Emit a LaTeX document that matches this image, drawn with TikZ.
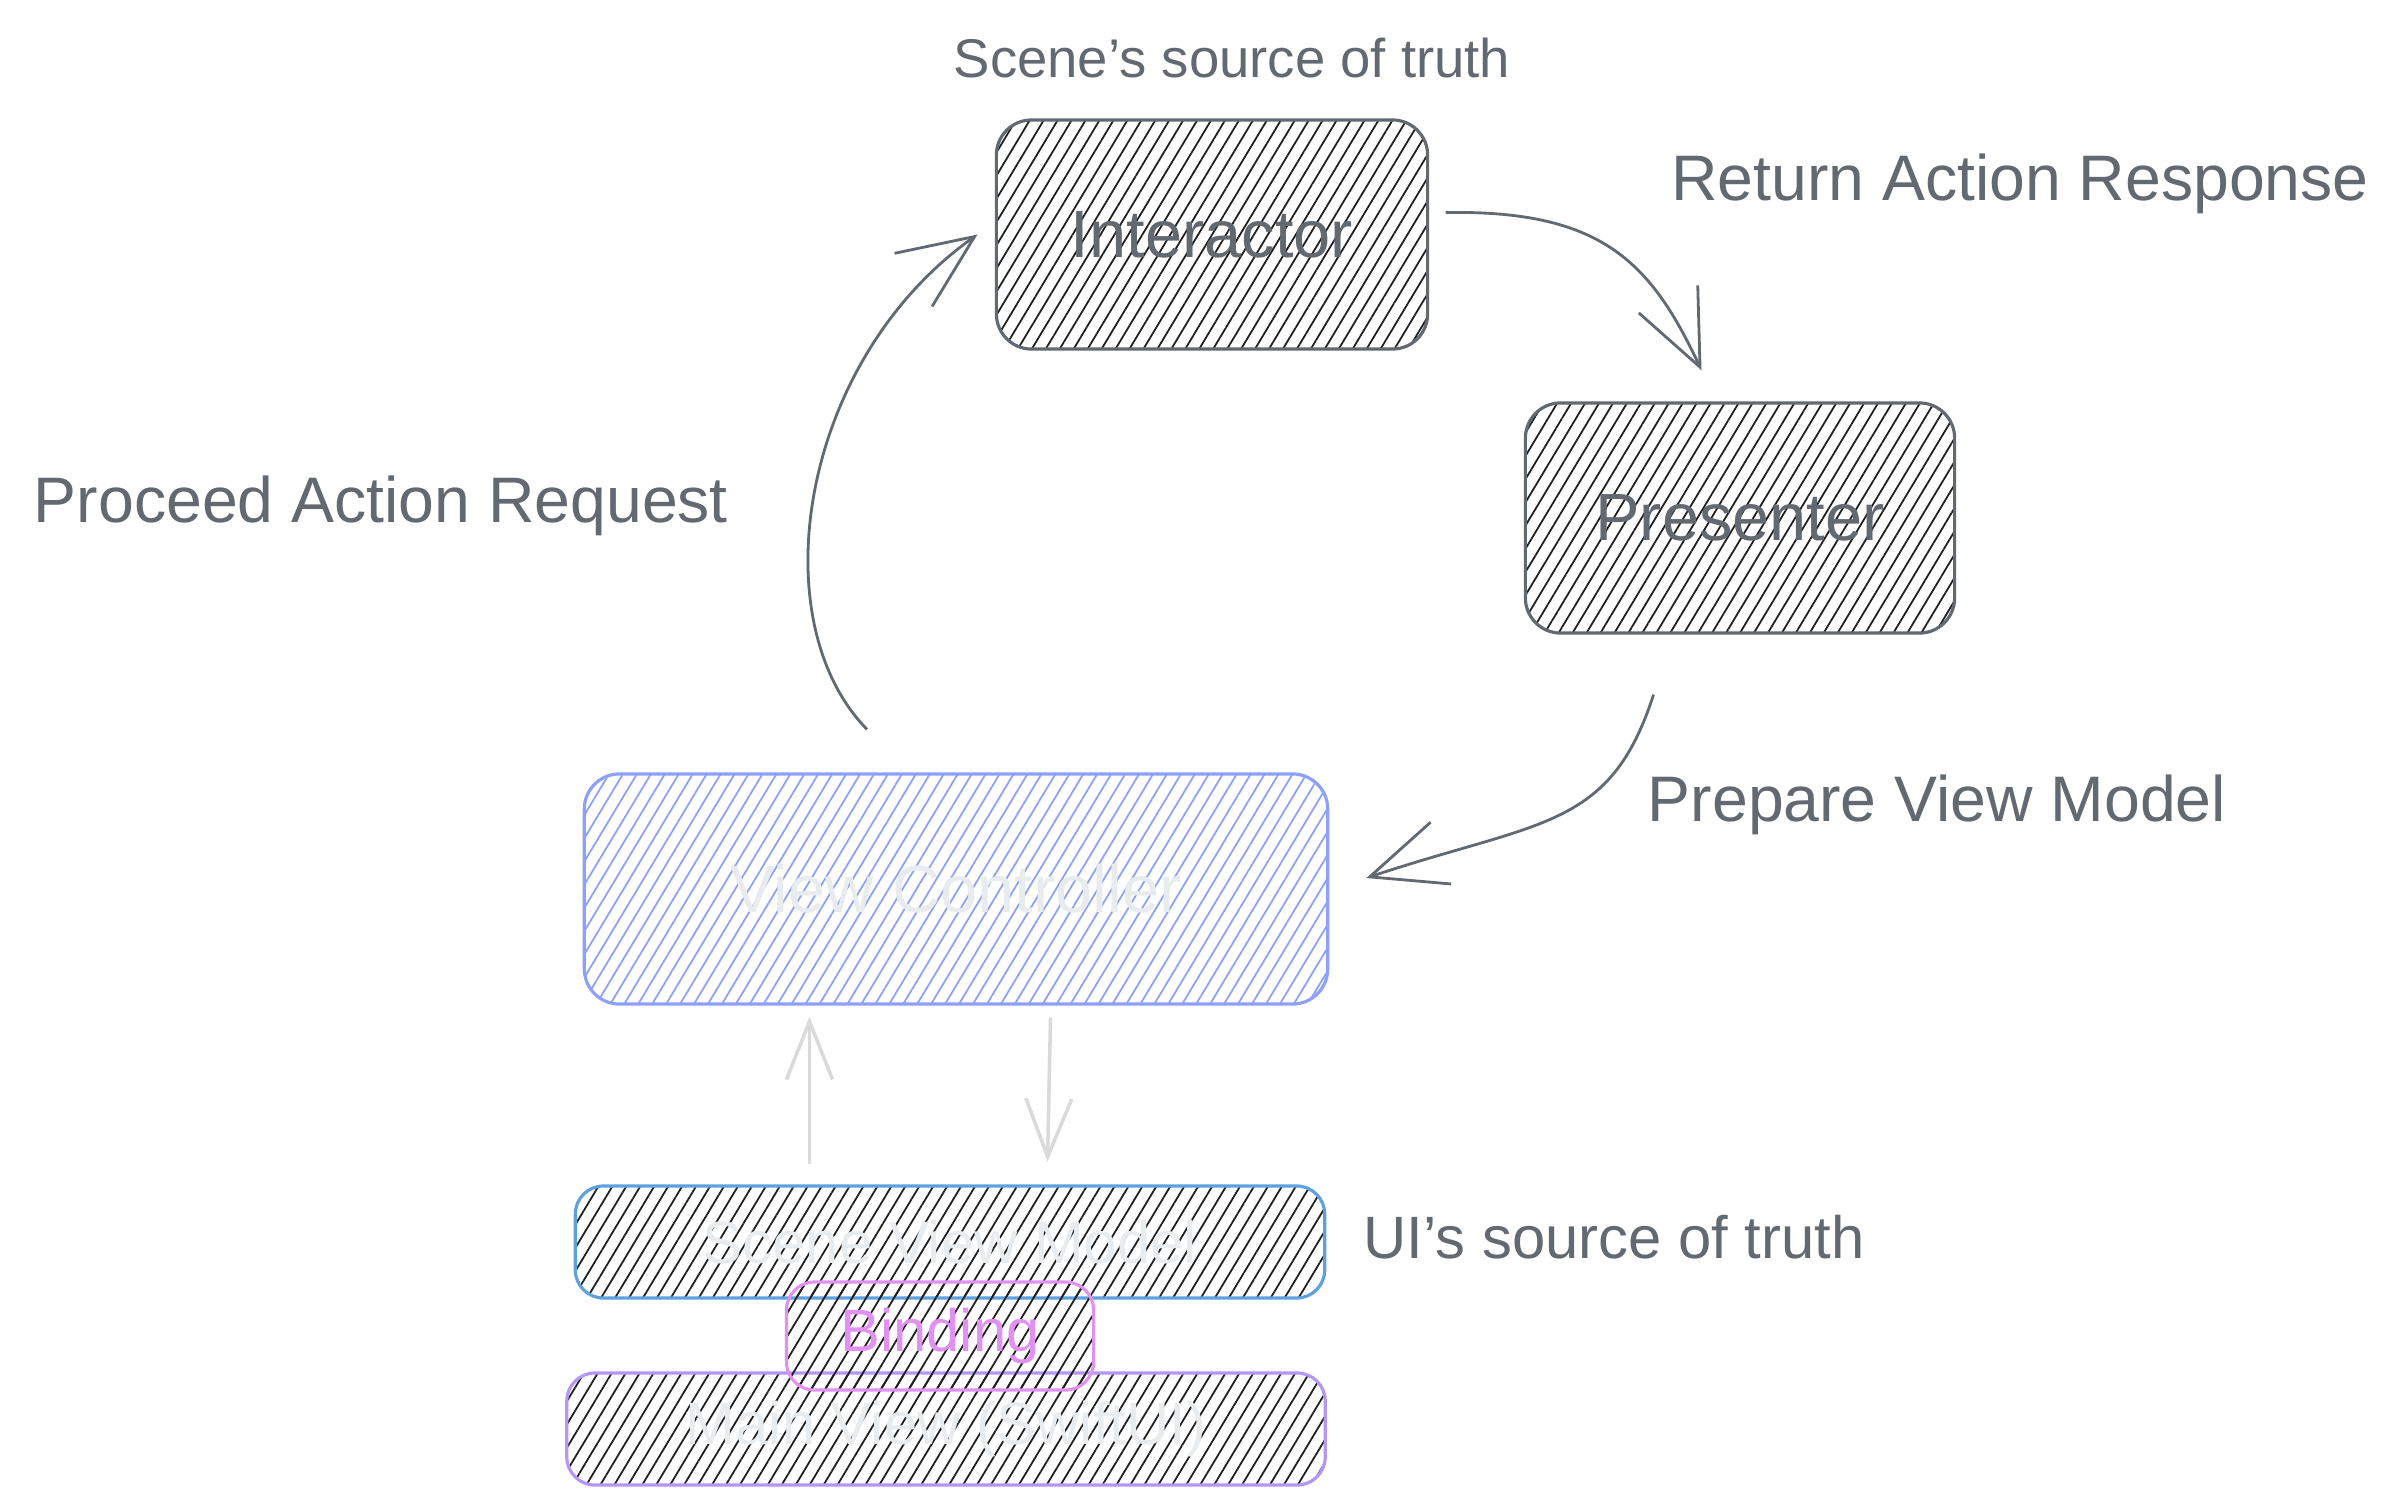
\documentclass[tikz,border=0pt]{standalone}
\usepackage{fontspec}
\setmainfont{Liberation Sans}
\usetikzlibrary{patterns.meta,arrows.meta}
\definecolor{ink}{RGB}{99,105,113}
\definecolor{faint}{RGB}{233,236,239}
\definecolor{lightarr}{RGB}{218,218,218}
\definecolor{vcblue}{RGB}{140,160,252}
\definecolor{svmblue}{RGB}{95,160,225}
\definecolor{mvviolet}{RGB}{180,150,250}
\definecolor{bindpink}{RGB}{225,145,242}
\definecolor{hatchink}{RGB}{30,30,30}
\begin{document}
\begin{tikzpicture}[x=0.01cm,y=-0.01cm,
  box/.style={rounded corners=10pt, line width=0.9pt, inner sep=0pt,
    pattern={Lines[angle=59,distance=3.4pt,line width=0.5pt]}, pattern color=hatchink},
  boxlabel/.style={font=\fontsize{19}{22}\selectfont},
  boxlabelsm/.style={font=\fontsize{17}{20}\selectfont},
  note/.style={text=ink, font=\fontsize{18.3}{22}\selectfont, inner sep=0pt},
  small/.style={text=ink, font=\fontsize{15.5}{18}\selectfont, inner sep=0pt},
  arr/.style={draw=ink, line width=0.8pt,
    -{Straight Barb[length=7.5mm,width=6.5mm,line width=0.8pt]}},
  larr/.style={draw=lightarr, line width=1pt,
    -{Straight Barb[length=5.8mm,width=4.6mm,line width=1pt]}}
]
\fill[white] (0,0) rectangle (2391,1509);
\useasboundingbox (0,0) rectangle (2391,1509);

% boxes
\node[box, draw=ink, text=ink, boxlabel, minimum width=4.31cm, minimum height=2.29cm]
  (int) at (1212,234.5) {Interactor};
\node[box, draw=ink, text=ink, boxlabel, minimum width=4.29cm, minimum height=2.30cm]
  (pres) at (1740,518) {Presenter};
\node[box, draw=vcblue, pattern color=vcblue, text=faint, boxlabel,
  minimum width=7.43cm, minimum height=2.30cm]
  (vc) at (956,889) {View Controller};
\node[box, draw=svmblue, text=faint, boxlabelsm, rounded corners=8pt,
  minimum width=7.49cm, minimum height=1.12cm]
  (svm) at (950,1242) {Scene View Model};
\node[box, draw=mvviolet, text=faint, boxlabelsm, rounded corners=8pt,
  minimum width=7.58cm, minimum height=1.12cm]
  (mv) at (946,1429) {Main View (SwiftUI)};
\node[box, draw=bindpink, text=bindpink, boxlabelsm, rounded corners=8pt,
  minimum width=3.07cm, minimum height=1.08cm]
  (bind) at (940,1336) {Binding};

% labels
\node[small] (sst) at (1232,58) {Scene's source of truth};
\node[note] (rar) at (2020,184) {Return Action Response};
\node[note] (par) at (381,506) {Proceed Action Request};
\node[note] (pvm) at (1937,805) {Prepare View Model};
\node[small, font=\fontsize{17}{20}\selectfont] (ust) at (1614,1237) {UI's source of truth};

% connectors
\draw[arr] ([shift={(-89,-43)}]vc.north) .. controls (760,620) and (800,360) .. ([shift={(-18,0)}]int.west);
\draw[arr] ([shift={(17,-22)}]int.east) .. controls (1600,210) and (1650,260) .. ([shift={(-38.5,-31)}]pres.north);
\draw[arr] ([shift={(-86.5,60)}]pres.south) .. controls (1610,830) and (1540,820) .. ([shift={(37,-11)}]vc.east);
\draw[larr] ([shift={(-140.5,-20)}]svm.north) -- ([shift={(-146.5,11)}]vc.south);
\draw[larr] ([shift={(94.5,12)}]vc.south) -- ([shift={(97.5,-23)}]svm.north);
\end{tikzpicture}
\end{document}
